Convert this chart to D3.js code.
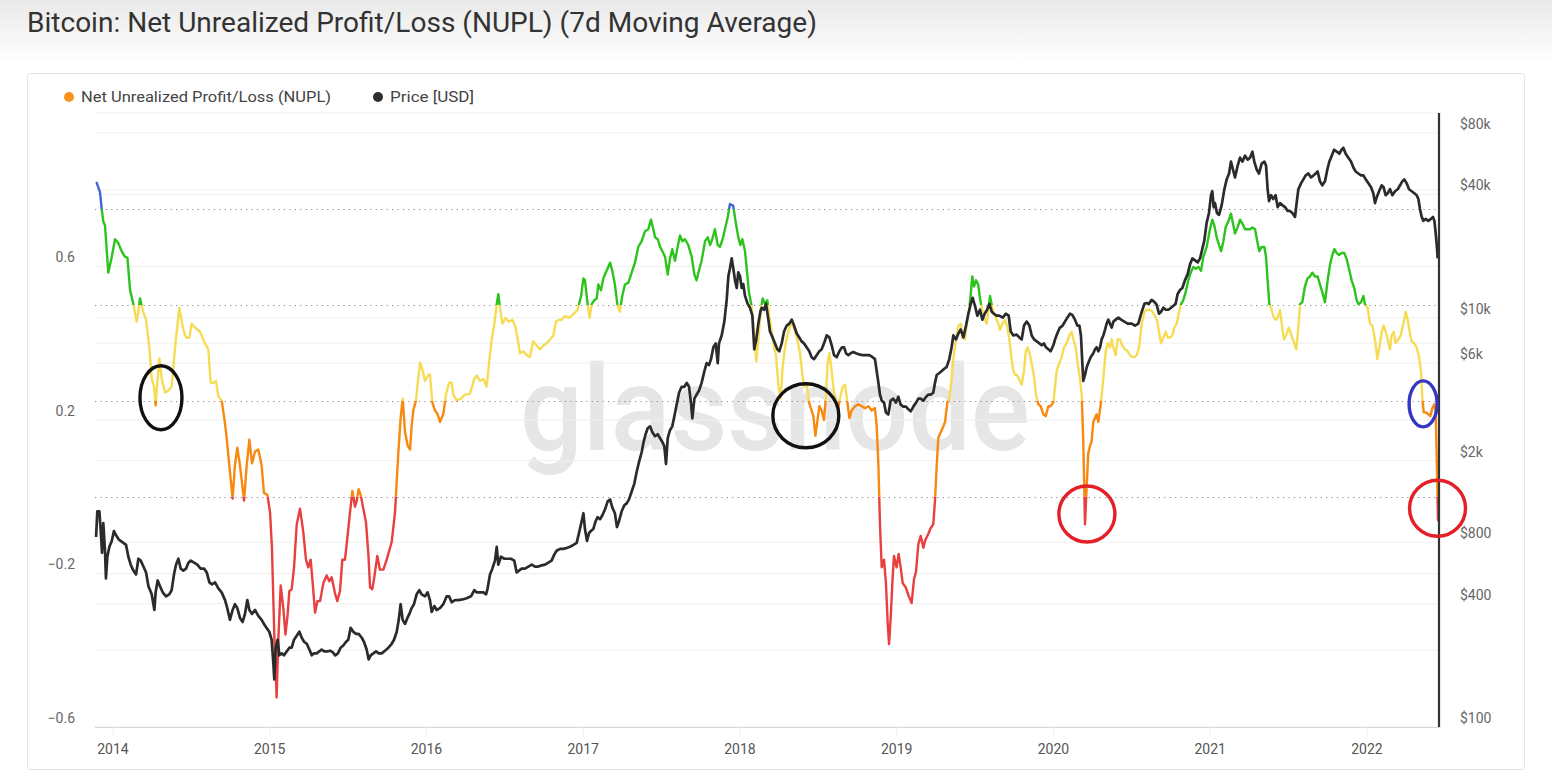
<!DOCTYPE html>
<html><head><meta charset="utf-8">
<script src="https://cdn.jsdelivr.net/npm/d3@7"></script>
<style>
html,body{margin:0;padding:0;background:#fff;}
svg{display:block;font-family:Roboto,Inter,"Noto Sans",sans-serif;}
</style></head>
<body><svg id="chart" width="1552" height="784"></svg>
<script>
// ---------- DATA (decimal year, value) ----------
const nuplSeries = [
[2013.896,0.818],[2013.917,0.794],[2013.928,0.750],[2013.938,0.717],[2013.949,0.707],[2013.970,0.584],[2013.992,0.625],[2014.013,0.671],[2014.034,0.661],[2014.055,0.640],[2014.077,0.625],[2014.092,0.623],[2014.109,0.538],[2014.130,0.502],[2014.151,0.456],[2014.162,0.482],[2014.172,0.517],[2014.189,0.487],[2014.211,0.461],[2014.232,0.389],[2014.247,0.307],[2014.262,0.287],[2014.272,0.238],[2014.285,0.307],[2014.296,0.361],[2014.311,0.307],[2014.332,0.272],[2014.353,0.277],[2014.374,0.287],[2014.396,0.389],[2014.423,0.492],[2014.449,0.435],[2014.466,0.415],[2014.487,0.415],[2014.502,0.451],[2014.523,0.441],[2014.555,0.430],[2014.587,0.400],[2014.608,0.384],[2014.623,0.297],[2014.640,0.297],[2014.657,0.302],[2014.672,0.261],[2014.693,0.251],[2014.710,0.205],[2014.725,0.154],[2014.742,0.082],[2014.763,-0.005],[2014.778,0.082],[2014.793,0.128],[2014.810,0.082],[2014.836,-0.010],[2014.853,0.082],[2014.870,0.149],[2014.887,0.087],[2014.906,0.118],[2014.927,0.123],[2014.948,0.082],[2014.963,0.010],[2014.985,0.005],[2015.002,-0.041],[2015.014,-0.133],[2015.029,-0.359],[2015.044,-0.523],[2015.055,-0.369],[2015.070,-0.231],[2015.087,-0.292],[2015.100,-0.359],[2015.114,-0.307],[2015.125,-0.246],[2015.140,-0.241],[2015.155,-0.184],[2015.172,-0.072],[2015.193,-0.031],[2015.214,-0.092],[2015.231,-0.164],[2015.246,-0.184],[2015.261,-0.164],[2015.274,-0.225],[2015.289,-0.302],[2015.304,-0.272],[2015.321,-0.272],[2015.342,-0.225],[2015.363,-0.205],[2015.380,-0.220],[2015.395,-0.210],[2015.416,-0.251],[2015.431,-0.272],[2015.448,-0.246],[2015.463,-0.164],[2015.480,-0.164],[2015.491,-0.123],[2015.512,-0.041],[2015.527,0.015],[2015.544,-0.026],[2015.555,-0.010],[2015.567,0.020],[2015.580,0.005],[2015.597,-0.031],[2015.614,-0.067],[2015.629,-0.149],[2015.640,-0.236],[2015.654,-0.241],[2015.665,-0.215],[2015.686,-0.154],[2015.703,-0.190],[2015.725,-0.190],[2015.746,-0.164],[2015.778,-0.118],[2015.799,-0.041],[2015.820,0.113],[2015.835,0.205],[2015.848,0.256],[2015.863,0.169],[2015.880,0.133],[2015.895,0.123],[2015.905,0.184],[2015.916,0.225],[2015.933,0.251],[2015.944,0.297],[2015.959,0.350],[2015.976,0.328],[2015.990,0.302],[2016.012,0.318],
[2016.022,0.318],[2016.037,0.246],[2016.054,0.225],[2016.071,0.215],[2016.086,0.195],[2016.107,0.215],[2016.124,0.266],[2016.144,0.297],[2016.161,0.297],[2016.171,0.266],[2016.193,0.251],[2016.220,0.256],[2016.246,0.266],[2016.277,0.268],[2016.305,0.307],[2016.320,0.316],[2016.341,0.302],[2016.363,0.307],[2016.384,0.287],[2016.399,0.348],[2016.416,0.410],[2016.433,0.451],[2016.448,0.502],[2016.458,0.528],[2016.469,0.492],[2016.484,0.451],[2016.505,0.466],[2016.526,0.456],[2016.548,0.461],[2016.565,0.446],[2016.582,0.410],[2016.596,0.374],[2016.618,0.379],[2016.639,0.369],[2016.660,0.364],[2016.681,0.405],[2016.703,0.394],[2016.724,0.384],[2016.745,0.394],[2016.767,0.400],[2016.788,0.410],[2016.809,0.420],[2016.826,0.456],[2016.841,0.461],[2016.862,0.461],[2016.884,0.471],[2016.909,0.466],[2016.937,0.476],[2016.964,0.487],[2016.986,0.523],[2017.001,0.569],[2017.011,0.564],[2017.028,0.502],[2017.041,0.466],[2017.054,0.502],[2017.071,0.512],[2017.086,0.517],[2017.096,0.553],[2017.113,0.538],[2017.128,0.569],[2017.149,0.589],[2017.171,0.610],[2017.185,0.589],[2017.202,0.553],[2017.219,0.497],[2017.234,0.482],[2017.249,0.523],[2017.266,0.553],[2017.288,0.558],[2017.309,0.584],[2017.330,0.610],[2017.351,0.651],[2017.373,0.666],[2017.394,0.692],[2017.415,0.697],[2017.432,0.722],[2017.447,0.697],[2017.458,0.676],[2017.475,0.671],[2017.490,0.651],[2017.505,0.640],[2017.522,0.625],[2017.539,0.579],[2017.553,0.620],[2017.568,0.645],[2017.585,0.615],[2017.602,0.651],[2017.617,0.681],[2017.632,0.666],[2017.649,0.671],[2017.670,0.656],[2017.692,0.625],[2017.709,0.579],[2017.723,0.564],[2017.738,0.589],[2017.755,0.615],[2017.777,0.666],[2017.794,0.676],[2017.809,0.656],[2017.823,0.671],[2017.840,0.697],[2017.858,0.656],[2017.872,0.651],[2017.889,0.671],[2017.904,0.697],[2017.921,0.727],[2017.936,0.763],[2017.957,0.758],[2017.972,0.717],[2017.989,0.676],[2018.002,0.656],[2018.015,0.671],[2018.032,0.640],[2018.043,0.594],[2018.057,0.533],[2018.074,0.497],[2018.091,0.420],[2018.104,0.353],[2018.117,0.410],[2018.134,0.492],
[2018.145,0.517],[2018.160,0.502],[2018.174,0.512],[2018.187,0.471],[2018.202,0.430],[2018.217,0.389],[2018.230,0.369],[2018.245,0.287],[2018.259,0.256],[2018.272,0.338],[2018.287,0.389],[2018.302,0.420],[2018.319,0.446],[2018.334,0.451],[2018.351,0.430],[2018.366,0.410],[2018.383,0.374],[2018.398,0.318],[2018.410,0.287],[2018.425,0.297],[2018.440,0.246],[2018.457,0.225],[2018.468,0.210],[2018.481,0.159],[2018.493,0.195],[2018.506,0.236],[2018.521,0.225],[2018.536,0.200],[2018.549,0.266],[2018.559,0.348],[2018.570,0.374],[2018.585,0.328],[2018.595,0.287],[2018.612,0.246],[2018.627,0.231],[2018.638,0.256],[2018.655,0.287],[2018.670,0.292],[2018.685,0.246],[2018.698,0.205],[2018.712,0.225],[2018.734,0.236],[2018.755,0.241],[2018.776,0.236],[2018.798,0.231],[2018.819,0.236],[2018.840,0.225],[2018.861,0.231],[2018.872,0.184],[2018.883,0.082],[2018.893,-0.072],[2018.904,-0.184],[2018.919,-0.164],[2018.931,-0.225],[2018.942,-0.328],[2018.951,-0.384],[2018.961,-0.318],[2018.972,-0.225],[2018.982,-0.154],[2018.999,-0.184],[2019.012,-0.149],[2019.025,-0.184],[2019.038,-0.225],[2019.057,-0.236],[2019.074,-0.256],[2019.095,-0.277],[2019.110,-0.215],[2019.123,-0.195],[2019.138,-0.123],[2019.153,-0.102],[2019.170,-0.133],[2019.182,-0.113],[2019.201,-0.097],[2019.216,-0.082],[2019.233,-0.072],[2019.244,-0.010],[2019.255,0.082],[2019.265,0.154],[2019.276,0.164],[2019.293,0.179],[2019.308,0.195],[2019.323,0.246],[2019.335,0.256],[2019.350,0.307],[2019.361,0.359],[2019.378,0.410],[2019.393,0.446],[2019.408,0.451],[2019.421,0.415],[2019.435,0.410],[2019.450,0.461],[2019.463,0.492],[2019.474,0.538],[2019.482,0.574],[2019.493,0.548],[2019.506,0.564],[2019.520,0.553],[2019.531,0.517],[2019.542,0.492],[2019.552,0.471],[2019.563,0.461],[2019.574,0.451],[2019.586,0.492],[2019.595,0.523],[2019.605,0.502],[2019.616,0.482],[2019.633,0.466],[2019.648,0.451],[2019.659,0.435],[2019.674,0.451],[2019.691,0.461],[2019.706,0.441],[2019.718,0.410],[2019.733,0.359],[2019.744,0.328],[2019.754,0.318],[2019.765,0.318],[2019.780,0.307],[2019.797,0.292],[2019.812,0.328],[2019.823,0.379],[2019.835,0.389],[2019.850,0.369],[2019.865,0.338],[2019.878,0.307],[2019.888,0.266],[2019.903,0.241],[2019.918,0.236],[2019.935,0.215],[2019.950,0.210],[2019.967,0.236],[2019.982,0.236],[2019.999,0.246],[2020.010,0.287],[2020.020,0.328],[2020.037,0.348],[2020.052,0.364],[2020.067,0.389],[2020.084,0.400],[2020.101,0.420],[2020.116,0.430],[2020.127,0.410],[2020.142,0.389],[2020.154,0.348],[2020.169,0.307],[2020.180,0.266],[2020.190,0.143],[2020.201,-0.072],[2020.212,0.031],[2020.222,0.113],[2020.233,0.133],[2020.243,0.143],[2020.254,0.195],
[2020.275,0.215],[2020.286,0.195],[2020.303,0.246],[2020.318,0.307],[2020.333,0.379],[2020.346,0.400],[2020.360,0.389],[2020.371,0.410],[2020.382,0.389],[2020.397,0.369],[2020.409,0.410],[2020.424,0.410],[2020.439,0.394],[2020.456,0.384],[2020.473,0.379],[2020.488,0.369],[2020.503,0.364],[2020.516,0.364],[2020.531,0.369],[2020.546,0.389],[2020.563,0.451],[2020.580,0.482],[2020.594,0.487],[2020.616,0.487],[2020.631,0.482],[2020.648,0.471],[2020.660,0.461],[2020.673,0.430],[2020.686,0.400],[2020.701,0.415],[2020.716,0.430],[2020.728,0.415],[2020.743,0.415],[2020.758,0.420],[2020.771,0.441],[2020.786,0.451],[2020.801,0.482],[2020.814,0.502],[2020.828,0.512],[2020.843,0.533],[2020.860,0.564],[2020.875,0.584],[2020.892,0.599],[2020.907,0.594],[2020.924,0.599],[2020.941,0.589],[2020.956,0.625],[2020.977,0.651],[2020.998,0.697],[2021.013,0.722],[2021.026,0.707],[2021.041,0.676],[2021.056,0.656],[2021.069,0.640],[2021.084,0.666],[2021.098,0.702],[2021.115,0.717],[2021.132,0.738],[2021.145,0.712],[2021.158,0.686],[2021.175,0.702],[2021.190,0.722],[2021.205,0.712],[2021.222,0.697],[2021.239,0.697],[2021.254,0.697],[2021.269,0.702],[2021.286,0.697],[2021.300,0.666],[2021.313,0.640],[2021.328,0.651],[2021.345,0.651],[2021.356,0.625],[2021.366,0.564],[2021.377,0.502],[2021.388,0.492],[2021.402,0.471],[2021.417,0.461],[2021.430,0.466],[2021.445,0.487],[2021.456,0.451],[2021.470,0.410],[2021.488,0.425],[2021.502,0.441],[2021.519,0.420],[2021.536,0.400],[2021.549,0.384],[2021.562,0.441],[2021.573,0.502],[2021.587,0.507],[2021.604,0.548],[2021.621,0.569],[2021.636,0.574],[2021.651,0.584],[2021.668,0.574],[2021.685,0.574],[2021.700,0.553],[2021.715,0.533],[2021.732,0.507],[2021.749,0.564],[2021.764,0.605],[2021.779,0.630],[2021.792,0.645],[2021.807,0.635],[2021.821,0.630],[2021.838,0.635],[2021.855,0.635],[2021.870,0.620],[2021.885,0.594],[2021.902,0.564],[2021.919,0.543],[2021.934,0.512],[2021.945,0.502],[2021.962,0.507],[2021.977,0.523],[2021.987,0.502],[2022.004,0.492],[2022.019,0.451],[2022.034,0.446],[2022.051,0.410],[2022.066,0.359],[2022.079,0.389],[2022.094,0.430],[2022.106,0.446],[2022.119,0.430],[2022.132,0.410],[2022.147,0.384],[2022.157,0.420],[2022.170,0.430],[2022.183,0.400],[2022.200,0.410],[2022.215,0.420],[2022.232,0.451],[2022.247,0.482],[2022.260,0.461],[2022.272,0.430],[2022.285,0.405],[2022.300,0.400],[2022.317,0.389],[2022.332,0.364],[2022.345,0.323],[2022.353,0.256],[2022.362,0.220],[2022.374,0.220],[2022.391,0.215],[2022.404,0.210],[2022.417,0.231],[2022.430,0.241],[2022.438,0.220],[2022.447,0.061],[2022.453,-0.061]
];

const priceSeries = [
[2013.892,848],[2013.900,1132],[2013.913,1132],[2013.921,927],[2013.930,710],[2013.938,991],[2013.949,726],[2013.955,532],[2013.964,679],[2013.977,759],[2013.992,811],[2014.006,907],[2014.019,867],[2014.034,830],[2014.049,811],[2014.066,794],[2014.083,776],[2014.098,679],[2014.113,621],[2014.130,581],[2014.147,556],[2014.162,664],[2014.177,650],[2014.194,608],[2014.211,569],[2014.226,487],[2014.247,445],[2014.264,373],[2014.272,455],[2014.285,520],[2014.300,487],[2014.317,455],[2014.338,435],[2014.359,445],[2014.374,466],[2014.389,556],[2014.402,621],[2014.417,664],[2014.432,594],[2014.449,581],[2014.466,594],[2014.481,635],[2014.496,650],[2014.517,635],[2014.538,621],[2014.559,594],[2014.581,594],[2014.598,569],[2014.615,509],[2014.632,498],[2014.651,509],[2014.672,476],[2014.693,455],[2014.715,417],[2014.729,381],[2014.746,334],[2014.763,373],[2014.778,398],[2014.793,381],[2014.810,341],[2014.827,326],[2014.842,357],[2014.857,417],[2014.870,373],[2014.887,357],[2014.906,373],[2014.927,349],[2014.948,334],[2014.963,319],[2014.980,305],[2014.997,292],[2015.012,267],[2015.023,205],[2015.029,171],[2015.038,244],[2015.051,267],[2015.061,224],[2015.076,229],[2015.091,224],[2015.108,234],[2015.125,244],[2015.140,244],[2015.155,267],[2015.172,279],[2015.189,292],[2015.204,273],[2015.219,261],[2015.236,255],[2015.253,239],[2015.268,224],[2015.282,229],[2015.299,229],[2015.316,234],[2015.331,239],[2015.348,234],[2015.367,234],[2015.384,236],[2015.401,232],[2015.418,224],[2015.435,229],[2015.452,244],[2015.469,250],[2015.487,261],[2015.501,267],[2015.516,305],[2015.533,292],[2015.550,285],[2015.567,285],[2015.587,273],[2015.601,261],[2015.618,239],[2015.631,214],[2015.644,224],[2015.661,229],[2015.678,234],[2015.695,229],[2015.714,229],[2015.735,236],[2015.757,244],[2015.778,255],[2015.793,267],[2015.810,292],[2015.823,334],[2015.835,398],[2015.848,334],[2015.863,319],[2015.878,341],[2015.891,357],[2015.905,381],[2015.920,398],[2015.937,445],[2015.954,466],[2015.969,445],[2015.991,435],
[2016.007,455],[2016.022,417],[2016.033,365],[2016.050,390],[2016.065,373],[2016.086,381],[2016.107,398],[2016.129,435],[2016.144,435],[2016.161,407],[2016.182,417],[2016.203,417],[2016.229,420],[2016.256,426],[2016.284,435],[2016.305,466],[2016.320,455],[2016.341,455],[2016.363,455],[2016.380,445],[2016.390,476],[2016.405,556],[2016.420,594],[2016.437,650],[2016.448,759],[2016.458,621],[2016.475,679],[2016.497,664],[2016.518,664],[2016.539,664],[2016.560,650],[2016.575,569],[2016.590,581],[2016.607,594],[2016.628,594],[2016.650,608],[2016.671,621],[2016.692,608],[2016.713,608],[2016.735,616],[2016.756,621],[2016.777,635],[2016.798,650],[2016.815,695],[2016.830,726],[2016.852,742],[2016.873,742],[2016.894,749],[2016.915,759],[2016.937,776],[2016.958,794],[2016.973,887],[2016.990,1013],[2017.001,1108],[2017.011,927],[2017.024,811],[2017.037,887],[2017.049,907],[2017.064,927],[2017.079,1013],[2017.092,1060],[2017.107,1036],[2017.122,1083],[2017.139,1158],[2017.156,1266],[2017.171,1294],[2017.185,1184],[2017.202,1108],[2017.215,948],[2017.228,1013],[2017.245,1132],[2017.262,1211],[2017.277,1238],[2017.292,1294],[2017.309,1414],[2017.326,1546],[2017.341,1767],[2017.356,1974],[2017.373,2206],[2017.385,2466],[2017.398,2695],[2017.411,2881],[2017.426,2945],[2017.441,2755],[2017.458,2635],[2017.475,2695],[2017.490,2577],[2017.505,2466],[2017.517,2358],[2017.528,1931],[2017.539,2577],[2017.553,2818],[2017.568,2945],[2017.581,3292],[2017.596,3761],[2017.611,4297],[2017.628,4594],[2017.645,4594],[2017.660,4803],[2017.675,4594],[2017.687,3845],[2017.696,3219],[2017.709,4020],[2017.723,4204],[2017.738,4395],[2017.755,4803],[2017.773,5486],[2017.787,5998],[2017.802,5866],[2017.815,6272],[2017.830,7166],[2017.845,7489],[2017.858,5998],[2017.866,7489],[2017.883,8186],[2017.900,9566],[2017.915,12216],[2017.926,15946],[2017.936,17427],[2017.947,19483],[2017.957,17427],[2017.968,15254],[2017.979,13960],[2017.989,16672],[2018.000,15946],[2018.011,13960],[2018.021,14590],[2018.032,12769],[2018.049,11681],[2018.064,11176],[2018.079,10226],[2018.091,7006],[2018.104,7831],[2018.117,9354],[2018.130,10690],
[2018.138,11176],[2018.153,10930],[2018.166,11681],[2018.181,9779],[2018.191,8558],[2018.208,8008],[2018.223,7489],[2018.238,7006],[2018.251,6855],[2018.266,7489],[2018.281,8558],[2018.298,9150],[2018.315,9354],[2018.330,9779],[2018.345,9150],[2018.362,8371],[2018.378,8008],[2018.393,7656],[2018.408,7489],[2018.425,7166],[2018.442,6855],[2018.457,6412],[2018.472,6272],[2018.489,6556],[2018.506,6855],[2018.521,7006],[2018.536,7489],[2018.553,8186],[2018.570,8008],[2018.585,7328],[2018.600,6556],[2018.617,6412],[2018.634,6855],[2018.651,7166],[2018.664,7166],[2018.676,6704],[2018.691,6556],[2018.706,6704],[2018.723,6793],[2018.740,6704],[2018.761,6615],[2018.783,6556],[2018.804,6556],[2018.825,6556],[2018.846,6412],[2018.861,6272],[2018.872,5486],[2018.883,4803],[2018.893,4204],[2018.904,3932],[2018.919,3845],[2018.931,3441],[2018.946,3365],[2018.961,3932],[2018.978,4020],[2018.995,3845],[2019.010,4111],[2019.025,3761],[2019.042,3678],[2019.059,3678],[2019.074,3566],[2019.089,3487],[2019.106,3678],[2019.123,3845],[2019.138,4020],[2019.153,4020],[2019.170,3932],[2019.187,4111],[2019.201,4204],[2019.216,4204],[2019.233,4297],[2019.244,4803],[2019.255,5248],[2019.272,5368],[2019.287,5486],[2019.301,5611],[2019.318,5737],[2019.335,6272],[2019.350,7166],[2019.361,8186],[2019.378,7831],[2019.393,8371],[2019.408,8750],[2019.425,8008],[2019.442,9150],[2019.457,10455],[2019.472,11681],[2019.484,12490],[2019.499,11427],[2019.514,10226],[2019.531,10930],[2019.546,9779],[2019.561,10455],[2019.576,10930],[2019.591,11681],[2019.606,10690],[2019.620,10455],[2019.637,10226],[2019.654,10226],[2019.676,10000],[2019.697,10455],[2019.714,10226],[2019.727,8558],[2019.744,8186],[2019.765,8260],[2019.782,8008],[2019.797,7831],[2019.812,9150],[2019.829,9566],[2019.846,9150],[2019.861,8186],[2019.876,7831],[2019.893,7656],[2019.910,7489],[2019.925,7328],[2019.939,7489],[2019.952,7166],[2019.967,7006],[2019.982,6855],[2019.999,7328],[2020.010,7831],[2020.024,8371],[2020.041,8947],[2020.058,9150],[2020.073,9566],[2020.088,10000],[2020.105,10455],[2020.120,10316],[2020.137,9779],[2020.152,9150],[2020.165,9150],[2020.175,8186],[2020.184,5998],[2020.190,4909],[2020.201,5248],[2020.212,5737],[2020.222,5998],[2020.237,6412],[2020.254,6704],
[2020.265,7006],[2020.275,7166],[2020.286,6855],[2020.297,7166],[2020.307,7831],[2020.318,8186],[2020.329,8750],[2020.339,9354],[2020.350,9779],[2020.360,9354],[2020.371,8947],[2020.382,9566],[2020.397,9779],[2020.414,10000],[2020.431,9779],[2020.452,9566],[2020.473,9354],[2020.499,9354],[2020.520,9150],[2020.541,9354],[2020.563,10690],[2020.580,11681],[2020.594,11784],[2020.609,11681],[2020.626,12216],[2020.643,11947],[2020.658,11580],[2020.673,10455],[2020.686,10690],[2020.701,11176],[2020.716,10930],[2020.733,10930],[2020.750,11176],[2020.765,11427],[2020.779,11681],[2020.792,13054],[2020.807,13648],[2020.822,13960],[2020.839,15254],[2020.856,16313],[2020.871,18223],[2020.886,19483],[2020.903,19055],[2020.920,18634],[2020.935,19483],[2020.950,21770],[2020.962,23790],[2020.977,29060],[2020.992,32480],[2021.005,39670],[2021.013,41470],[2021.022,34710],[2021.030,36300],[2021.043,32480],[2021.056,31770],[2021.073,35480],[2021.090,42400],[2021.105,47390],[2021.120,50650],[2021.132,57880],[2021.145,52970],[2021.158,48450],[2021.175,55360],[2021.190,60520],[2021.205,57880],[2021.222,61880],[2021.239,59160],[2021.254,60520],[2021.269,64700],[2021.281,57880],[2021.296,52970],[2021.311,50650],[2021.328,56610],[2021.345,57880],[2021.356,55360],[2021.366,42400],[2021.375,37110],[2021.388,39670],[2021.402,37940],[2021.417,39670],[2021.430,34710],[2021.445,36300],[2021.460,35480],[2021.477,34710],[2021.494,33200],[2021.509,33200],[2021.524,32480],[2021.541,31070],[2021.551,36300],[2021.562,42400],[2021.579,45330],[2021.594,47390],[2021.609,49550],[2021.626,50650],[2021.643,48450],[2021.658,49550],[2021.673,50650],[2021.685,51800],[2021.700,46340],[2021.715,44330],[2021.732,46340],[2021.747,52970],[2021.760,57880],[2021.775,61880],[2021.790,66150],[2021.807,64700],[2021.824,63260],[2021.838,66150],[2021.849,67610],[2021.864,63260],[2021.881,60520],[2021.898,57880],[2021.913,54150],[2021.928,51800],[2021.945,50650],[2021.962,49550],[2021.977,49550],[2021.992,47390],[2022.009,45330],[2022.026,43350],[2022.040,40550],[2022.051,36300],[2022.062,38800],[2022.077,41470],[2022.094,44330],[2022.106,43350],[2022.119,39670],[2022.132,40550],[2022.147,42400],[2022.162,39670],[2022.179,41470],[2022.196,42400],[2022.211,44330],[2022.225,46340],[2022.238,47390],[2022.253,45330],[2022.268,42400],[2022.285,41470],[2022.302,40550],[2022.317,39670],[2022.328,37940],[2022.338,33960],[2022.349,31070],[2022.360,29720],[2022.374,30380],[2022.391,29720],[2022.408,30380],[2022.421,31070],[2022.430,29720],[2022.438,26000],[2022.445,22750],[2022.451,19483]
];

const yearTicks = [2014,2015,2016,2017,2018,2019,2020,2021,2022];
const nuplTicks = [-0.6,-0.2,0.2,0.6];
const nuplGrid = [-0.6,-0.4,-0.2,0.2,0.4,0.6,0.8,1.0];
const priceTicks = [100,400,800,2000,6000,10000,40000,80000];
const priceTickLabels = ["$100","$400","$800","$2k","$6k","$10k","$40k","$80k"];
const zoneThresholds = [0.75,0.5,0.25,0];
const zoneNames = ["Euphoria","Belief","Optimism","Hope","Capitulation"];
const zoneColors = ["#4463dd","#2cc41c","#f6dc55","#f7890e","#e8403f"];
const legendLabels = ["Net Unrealized Profit/Loss (NUPL)","Price [USD]"];
const legendColors = ["#f7931a","#2d2d2d"];
// annotation circles drawn on the chart (decimal year, NUPL level)
const annotations = [
  {year:2014.306, nupl:0.258, color:"#111111"},
  {year:2018.420, nupl:0.211, color:"#111111"},
  {year:2020.213, nupl:-0.045, color:"#e32028"},
  {year:2022.358, nupl:0.242, color:"#3536c4"},
  {year:2022.450, nupl:-0.030, color:"#e32028"}
];
const annotationSize = [[21,32],[33,32],[28,28],[14,23],[28,28]];

// ---------- LAYOUT ----------
const svg = d3.select("#chart");
const plot = {left:95, right:1440, top:113, bottom:727};
const x = d3.scaleLinear().domain([2014,2022]).range([113,1367]);
const yN = d3.scaleLinear().domain([-0.6,1.0]).range([plot.bottom, plot.top]);
const yP = d3.scaleLog().domain([100,100000]).range([plot.bottom, plot.top]);

const defs = svg.append("defs");
const grad = defs.append("linearGradient").attr("id","hdr").attr("x1",0).attr("x2",0).attr("y1",0).attr("y2",1);
grad.append("stop").attr("offset","0%").attr("stop-color","#e9e9e9");
grad.append("stop").attr("offset","100%").attr("stop-color","#ffffff");
svg.append("rect").attr("x",0).attr("y",0).attr("width",1552).attr("height",62).attr("fill","url(#hdr)");

svg.append("text").attr("x",27).attr("y",32).attr("font-size",27).attr("font-weight",400)
  .attr("fill","#333").attr("textLength",790).attr("lengthAdjust","spacingAndGlyphs")
  .text("Bitcoin: Net Unrealized Profit/Loss (NUPL) (7d Moving Average)");

// chart card
svg.append("rect").attr("x",27.5).attr("y",73.5).attr("width",1497).attr("height",696)
  .attr("fill","#fff").attr("stroke","#e4e4e4").attr("rx",2);

// legend
const lg = svg.append("g");
const legendX = [69,378];
const legendW = [250,84];
legendLabels.forEach((t,i)=>{
  lg.append("circle").attr("cx",legendX[i]).attr("cy",97).attr("r",5).attr("fill",legendColors[i]);
  lg.append("text").attr("x",legendX[i]+12).attr("y",102).attr("font-size",14.5).attr("fill","#444")
    .attr("textLength",legendW[i]).attr("lengthAdjust","spacingAndGlyphs").text(t);
});

// watermark
svg.append("text").attr("x",775).attr("y",450).attr("text-anchor","middle")
  .attr("font-size",118).attr("font-weight",500).attr("fill","#e6e6e6")
  .attr("textLength",510).attr("lengthAdjust","spacingAndGlyphs").text("glassnode");

// gridlines (faint)
const grid = svg.append("g");
nuplGrid.forEach(v=>{
  grid.append("line").attr("x1",plot.left).attr("x2",plot.right).attr("y1",yN(v)).attr("y2",yN(v))
    .attr("stroke","#efefef").attr("stroke-width",1);
});
priceTicks.forEach(v=>{
  grid.append("line").attr("x1",plot.left).attr("x2",plot.right).attr("y1",yP(v)).attr("y2",yP(v))
    .attr("stroke","#f0f0f0").attr("stroke-width",1);
});
// zone dotted lines
zoneThresholds.forEach(v=>{
  grid.append("line").attr("x1",plot.left).attr("x2",plot.right).attr("y1",Math.round(yN(v))+0.5).attr("y2",Math.round(yN(v))+0.5)
    .attr("stroke","#8a8a8a").attr("stroke-width",1.2).attr("stroke-dasharray","1.2,4.2");
});

// x axis
svg.append("line").attr("x1",plot.left).attr("x2",plot.right).attr("y1",plot.bottom+0.5).attr("y2",plot.bottom+0.5)
  .attr("stroke","#d8d8d8").attr("stroke-width",1.2);
const xa = svg.append("g");
yearTicks.forEach(t=>{
  xa.append("line").attr("x1",x(t)).attr("x2",x(t)).attr("y1",plot.bottom).attr("y2",plot.bottom+8).attr("stroke","#eeeeee");
  xa.append("text").attr("x",x(t)).attr("y",754).attr("text-anchor","middle").attr("font-size",14).attr("fill","#555").text(d3.format("d")(t));
});
// left axis labels
nuplTicks.forEach(t=>{
  svg.append("text").attr("x",75).attr("y",yN(t)-9).attr("dy","0.35em").attr("text-anchor","end")
    .attr("font-size",14).attr("fill","#666").text(d3.format(".1f")(t));
});
// right axis labels
priceTicks.forEach((t,i)=>{
  svg.append("text").attr("x",1460).attr("y",yP(t)-9).attr("dy","0.35em").attr("text-anchor","start")
    .attr("font-size",14).attr("fill","#666").text(priceTickLabels[i]);
});

// NUPL coloured by zone using clip bands
const bounds = [1.2].concat(zoneThresholds).concat([-1.2]);
const nuplLine = d3.line().x(d=>x(d[0])).y(d=>yN(d[1])).curve(d3.curveLinear);
zoneColors.forEach((c,i)=>{
  const top = yN(bounds[i]), bot = yN(bounds[i+1]);
  defs.append("clipPath").attr("id","zone"+i).append("rect")
    .attr("x",0).attr("width",1552).attr("y",top).attr("height",bot-top);
  svg.append("path").datum(nuplSeries).attr("d",nuplLine).attr("fill","none")
    .attr("stroke",c).attr("stroke-width",2.4).attr("stroke-linejoin","round").attr("stroke-linecap","round")
    .attr("clip-path","url(#zone"+i+")");
});

// price line
const priceLine = d3.line().x(d=>x(d[0])).y(d=>yP(d[1]));
svg.append("path").datum(priceSeries).attr("d",priceLine).attr("fill","none")
  .attr("stroke","#2b2b2b").attr("stroke-width",2.7).attr("stroke-linejoin","round");

// right edge marker line at last date
const lastYear = nuplSeries[nuplSeries.length-1][0];
svg.append("line").attr("x1",x(lastYear)+1).attr("x2",x(lastYear)+1).attr("y1",plot.top).attr("y2",plot.bottom)
  .attr("stroke","#333").attr("stroke-width",2.2);

// annotations
annotations.forEach((a,i)=>{
  svg.append("ellipse").attr("cx",x(a.year)).attr("cy",yN(a.nupl))
    .attr("rx",annotationSize[i][0]).attr("ry",annotationSize[i][1])
    .attr("fill","none").attr("stroke",a.color).attr("stroke-width",3.4);
});
</script></body></html>
